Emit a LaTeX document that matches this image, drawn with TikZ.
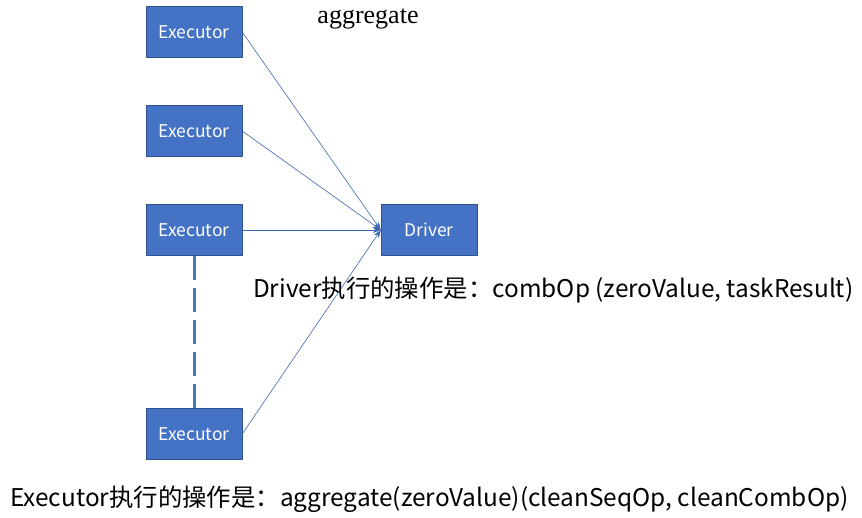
\documentclass[tikz,border=0pt]{standalone}
\usepackage{fontspec}
\setmainfont{Liberation Serif}
\newfontfamily\cjk{Noto Sans CJK SC}
\definecolor{boxblue}{HTML}{4472C4}
\definecolor{boxedge}{HTML}{2F528F}
\tikzset{
  unitbox/.style={draw=boxedge,fill=boxblue,text=white,minimum width=96pt,minimum height=51pt,inner sep=0pt,font=\cjk\fontsize{17.5}{17.5}\selectfont},
  link/.style={-{Stealth[length=8pt,width=6pt]},draw=boxblue!90!black,line width=0.6pt},
}
\usetikzlibrary{arrows.meta}
\begin{document}
\begin{tikzpicture}[x=1pt,y=-1pt,line join=round,line cap=round]
  \useasboundingbox (0,0) rectangle (862,518);
  \foreach \n/\y in {e1/32,e2/131,e3/230,e4/434}{
    \node[unitbox] (\n) at (194,\y) {Executor};}
  \node[unitbox] (drv) at (429,230) {Driver};
  \foreach \n in {e1,e2,e3,e4}{
    \draw[link] (\n.east) -- (drv.west);}
  \draw[boxblue,line width=3pt,line cap=butt,dash pattern=on 24pt off 8pt] (e3.south) -- (e4.north);
  \node[font=\fontsize{26}{26}\selectfont] (title) at (368,19) {aggregate};
  \node[font=\cjk\fontsize{24.4}{24.4}\selectfont,anchor=west,inner sep=0pt] (drvop) at (253,290) {Driver执行的操作是：combOp (zeroValue, taskResult)};
  \node[font=\cjk\fontsize{24.4}{24.4}\selectfont,anchor=west,inner sep=0pt] (exop) at (10,499) {Executor执行的操作是：aggregate(zeroValue)(cleanSeqOp, cleanCombOp)};
\end{tikzpicture}
\end{document}
